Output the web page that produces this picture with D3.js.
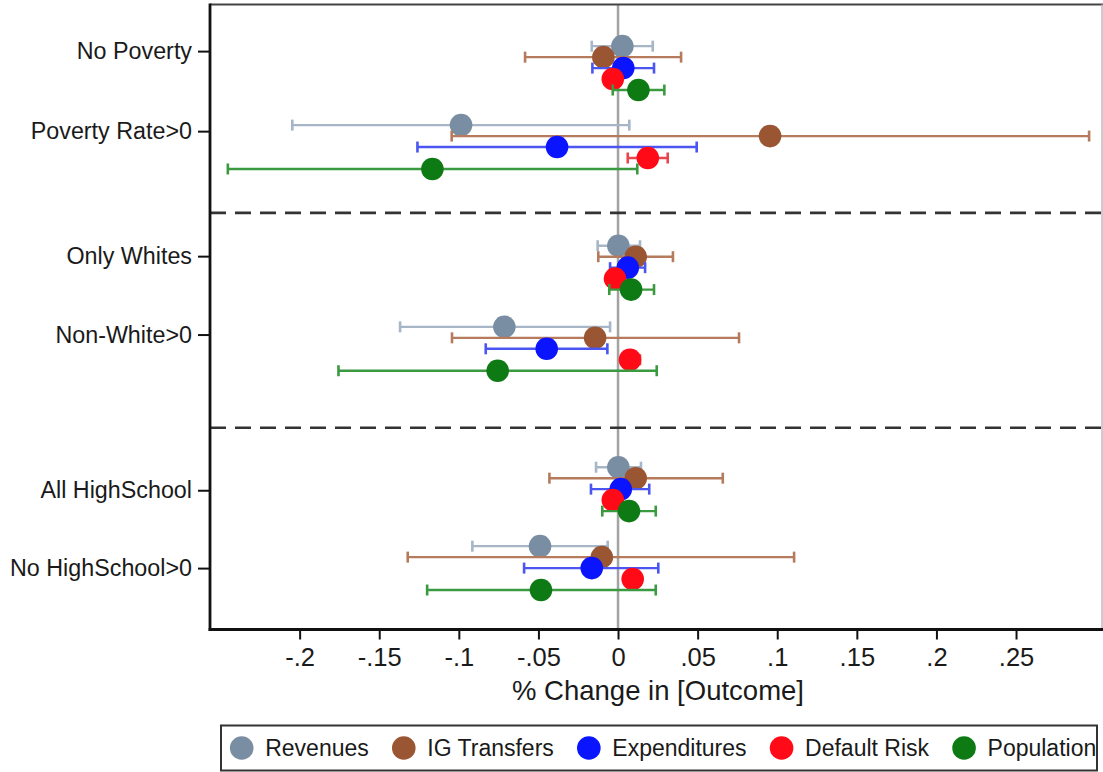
<!DOCTYPE html>
<html>
<head>
<meta charset="utf-8">
<script src="https://cdn.jsdelivr.net/npm/d3@7"></script>
<style>
  html, body { margin: 0; padding: 0; background: #fff; }
  svg { display: block; font-family: "Liberation Sans", Arial, Helvetica, sans-serif; }
</style>
</head>
<body>
<svg id="chart" width="1103" height="772"></svg>
<script>
// ---------------- data ----------------
const categories = ["No Poverty", "Poverty Rate>0", "Only Whites", "Non-White>0", "All HighSchool", "No HighSchool>0"];
// vertical positions (row units) of the category labels and of the first series' marker
const categoryLabelPos = [4.25, 11.55, 22.95, 30.1, 44.3, 51.4];
const categoryRowPos   = [3.8, 11.0, 22.0, 29.4, 42.2, 49.4];
const dividerPos = [19.0, 38.6];
const seriesNames = ["Revenues", "IG Transfers", "Expenditures", "Default Risk", "Population"];

const revenuesEst = [0.0027, -0.0986, 0.0002, -0.0714, 0.0002, -0.0490];
const revenuesLo  = [-0.0165, -0.2046, -0.0128, -0.1369, -0.0138, -0.0915];
const revenuesHi  = [0.0218, 0.0071, 0.0138, -0.0050, 0.0144, -0.0065];

const igTransfersEst = [-0.0092, 0.0955, 0.0111, -0.0144, 0.0111, -0.0102];
const igTransfersLo  = [-0.0584, -0.1045, -0.0124, -0.1043, -0.0431, -0.1321];
const igTransfersHi  = [0.0396, 0.2959, 0.0345, 0.0760, 0.0658, 0.1106];

const expendituresEst = [0.0033, -0.0383, 0.0061, -0.0448, 0.0017, -0.0165];
const expendituresLo  = [-0.0161, -0.1260, -0.0050, -0.0831, -0.0170, -0.0590];
const expendituresHi  = [0.0226, 0.0494, 0.0170, -0.0067, 0.0196, 0.0253];

const defaultRiskEst = [-0.0033, 0.0187, -0.0019, 0.0075, -0.0033, 0.0092];
const defaultRiskLo  = [-0.0078, 0.0061, -0.0062, 0.0032, -0.0076, 0.0050];
const defaultRiskHi  = [0.0012, 0.0312, 0.0024, 0.0138, 0.0010, 0.0134];

const populationEst = [0.0128, -0.1166, 0.0082, -0.0756, 0.0069, -0.0484];
const populationLo  = [-0.0033, -0.2451, -0.0055, -0.1756, -0.0099, -0.1199];
const populationHi  = [0.0291, 0.0121, 0.0226, 0.0243, 0.0237, 0.0237];

const xTickValues = [-0.2, -0.15, -0.1, -0.05, 0, 0.05, 0.1, 0.15, 0.2, 0.25];
const xTitle = "% Change in [Outcome]";

// ---------------- styles ----------------
const dotColors = ["#7a8ea3", "#9a5532", "#0a14ff", "#ff0a16", "#0d7a14"];
const ciColors  = ["#a6b6c6", "#b67a5c", "#4b55f2", "#e8464c", "#3b9a40"];

const series = seriesNames.map((name, i) => ({
  name,
  est: [revenuesEst, igTransfersEst, expendituresEst, defaultRiskEst, populationEst][i],
  lo:  [revenuesLo, igTransfersLo, expendituresLo, defaultRiskLo, populationLo][i],
  hi:  [revenuesHi, igTransfersHi, expendituresHi, defaultRiskHi, populationHi][i],
  dot: dotColors[i], ci: ciColors[i]
}));

const svg = d3.select("#chart");
const plot = { left: 210, right: 1102, top: 4.5, bottom: 629.5 };

const x = d3.scaleLinear().domain([-0.2563, 0.3040]).range([plot.left, plot.right]);
const y = d3.scaleLinear().domain([0, 57]).range([plot.top, plot.bottom]);

// zero line
svg.append("line")
  .attr("x1", x(0)).attr("x2", x(0))
  .attr("y1", plot.top).attr("y2", plot.bottom)
  .attr("stroke", "#a3a3a3").attr("stroke-width", 2.5);

// dashed dividers
svg.selectAll("line.divider").data(dividerPos).enter().append("line")
  .attr("class", "divider")
  .attr("x1", plot.left).attr("x2", plot.right)
  .attr("y1", d => y(d)).attr("y2", d => y(d))
  .attr("stroke", "#333").attr("stroke-width", 2.6)
  .attr("stroke-dasharray", "16,9");

// series: CI then dot, in order
const capH = 5.5;
const r = 11.3;
series.forEach((s, si) => {
  const g = svg.append("g");
  categories.forEach((c, ci) => {
    const yy = y(categoryRowPos[ci] + si);
    const x1 = x(s.lo[ci]), x2 = x(s.hi[ci]);
    g.append("line").attr("x1", x1).attr("x2", x2).attr("y1", yy).attr("y2", yy)
      .attr("stroke", s.ci).attr("stroke-width", 2.4);
    [x1, x2].forEach(xc => {
      g.append("line").attr("x1", xc).attr("x2", xc).attr("y1", yy - capH).attr("y2", yy + capH)
        .attr("stroke", s.ci).attr("stroke-width", 2.6);
    });
    g.append("circle").attr("cx", x(s.est[ci])).attr("cy", yy).attr("r", r).attr("fill", s.dot);
  });
});

// frame: top and right (gray), left and bottom axes (black)
svg.append("line").attr("x1", plot.left).attr("x2", plot.right + 1).attr("y1", plot.top).attr("y2", plot.top)
  .attr("stroke", "#444").attr("stroke-width", 2);
svg.append("line").attr("x1", plot.right).attr("x2", plot.right).attr("y1", plot.top).attr("y2", plot.bottom)
  .attr("stroke", "#bbb").attr("stroke-width", 1.5);

// y axis
const yAxis = d3.axisLeft(y).tickValues(categoryLabelPos)
  .tickFormat((d, i) => categories[i]).tickSize(12).tickPadding(6).tickSizeOuter(0);
const gy = svg.append("g").attr("transform", `translate(${plot.left},0)`).call(yAxis);
gy.select(".domain").remove();
gy.selectAll(".tick line").attr("stroke", "#111").attr("stroke-width", 2);
gy.selectAll(".tick text").attr("font-size", 23.3).attr("fill", "#1a1a1a")
  .attr("font-family", '"Liberation Sans", Arial, sans-serif');
svg.append("line").attr("x1", plot.left).attr("x2", plot.left).attr("y1", plot.top - 1).attr("y2", plot.bottom + 1.5)
  .attr("stroke", "#111").attr("stroke-width", 2.8);

// x axis
const fmt = d => d === 0 ? "0" : String(d).replace("0.", ".");
const xAxis = d3.axisBottom(x).tickValues(xTickValues).tickFormat(fmt)
  .tickSize(10).tickPadding(8).tickSizeOuter(0);
const gx = svg.append("g").attr("transform", `translate(0,${plot.bottom})`).call(xAxis);
gx.select(".domain").remove();
gx.selectAll(".tick line").attr("stroke", "#111").attr("stroke-width", 2);
gx.selectAll(".tick text").attr("font-size", 25.5).attr("fill", "#1a1a1a")
  .attr("font-family", '"Liberation Sans", Arial, sans-serif');
svg.append("line").attr("x1", plot.left - 1.4).attr("x2", plot.right + 1).attr("y1", plot.bottom).attr("y2", plot.bottom)
  .attr("stroke", "#111").attr("stroke-width", 2.8);

// x title
svg.append("text").attr("x", (plot.left + plot.right) / 2 + 2).attr("y", 700)
  .attr("text-anchor", "middle").attr("font-size", 27.5).attr("fill", "#1a1a1a")
  .text(xTitle);

// legend
const legend = { left: 221, right: 1097, top: 725.5, bottom: 770.5 };
svg.append("rect").attr("x", legend.left).attr("y", legend.top)
  .attr("width", legend.right - legend.left).attr("height", legend.bottom - legend.top)
  .attr("fill", "#fff").attr("stroke", "#333").attr("stroke-width", 2);
const ly = (legend.top + legend.bottom) / 2;
let cx = 241.7;
series.forEach((s, i) => {
  svg.append("circle").attr("cx", cx).attr("cy", ly).attr("r", 11.8).attr("fill", s.dot);
  const t = svg.append("text").attr("x", cx + 23.5).attr("y", ly).attr("dy", "0.36em")
    .attr("font-size", 23).attr("fill", "#1a1a1a").text(s.name);
  cx = cx + 23.5 + t.node().getComputedTextLength() + 35;
});
</script>
</body>
</html>
